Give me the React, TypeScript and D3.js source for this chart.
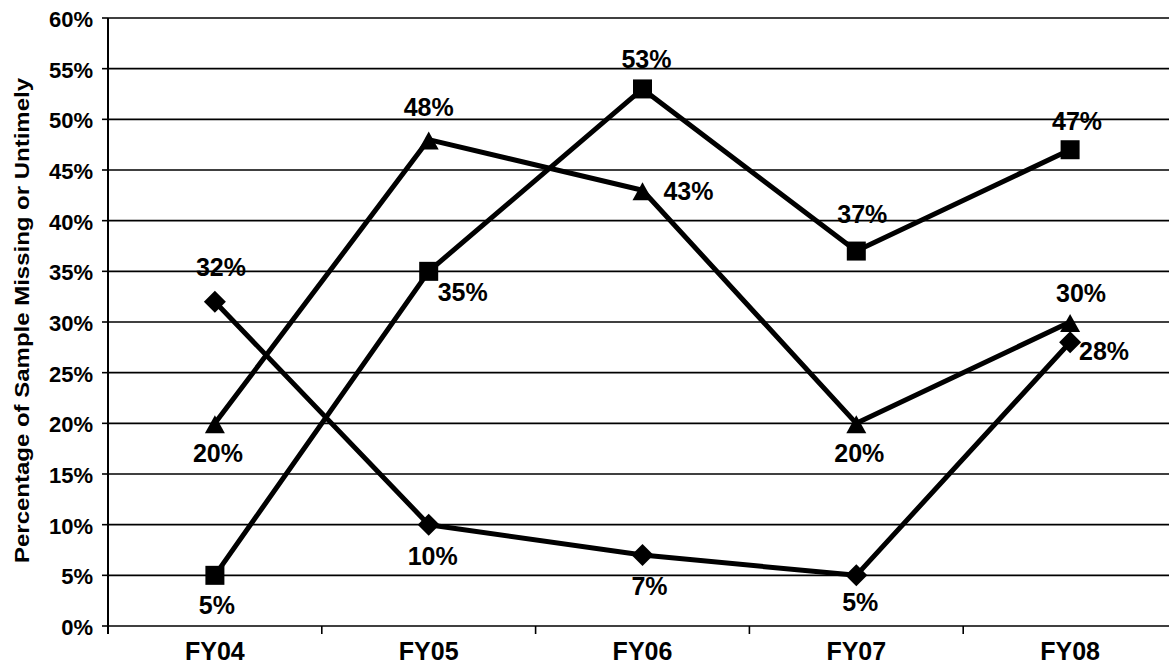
import React from "react";
import * as d3 from "d3";

const categories = ["FY04", "FY05", "FY06", "FY07", "FY08"];
const squareValues = [5, 35, 53, 37, 47];
const triangleValues = [20, 48, 43, 20, 30];
const diamondValues = [32, 10, 7, 5, 28];
const yTicks = [0, 5, 10, 15, 20, 25, 30, 35, 40, 45, 50, 55, 60];

// label offsets [dx, dy baseline] relative to marker
const squareLabelOffsets = [[2, 39], [34, 30], [4, -21], [6, -28], [7, -20]];
const triangleLabelOffsets = [[3, 39], [0, -24], [46, 10], [3, 39], [11, -20]];
const diamondLabelOffsets = [[6, -26], [4, 40], [7, 40], [4, 36], [34, 18]];

const W = 1169;
const H = 664;
const left = 108;
const right = 1177;
const top = 18;
const bottom = 626;
const FONT = "Arial, 'Liberation Sans', Helvetica, sans-serif";

export default function App() {
  const x = d3.scaleBand<string>().domain(categories).range([left, right]).padding(0);
  const cx = (c: string) => (x(c) as number) + x.bandwidth() / 2;
  const y = d3.scaleLinear().domain([0, 60]).range([bottom, top]);
  const line = d3
    .line<number>()
    .x((_, i) => cx(categories[i]))
    .y((d) => y(d));

  const series = [
    { name: "diamond", values: diamondValues, offsets: diamondLabelOffsets },
    { name: "square", values: squareValues, offsets: squareLabelOffsets },
    { name: "triangle", values: triangleValues, offsets: triangleLabelOffsets },
  ];

  const marker = (kind: string, px: number, py: number, key: string) => {
    if (kind === "square")
      return <rect key={key} x={px - 9.5} y={py - 9.5} width={19} height={19} fill="#000" />;
    if (kind === "triangle")
      return (
        <path key={key} d={`M${px},${py - 8}L${px + 10},${py + 10}L${px - 10},${py + 10}Z`} fill="#000" />
      );
    return (
      <path key={key} d={`M${px},${py - 11}L${px + 11},${py}L${px},${py + 11}L${px - 11},${py}Z`} fill="#000" />
    );
  };

  const boundaries = [...categories.map((c) => x(c) as number), right];

  return (
    <svg
      width={W}
      height={H}
      style={{ position: "absolute", left: 0, top: 0, background: "#fff" }}
      fontFamily={FONT}
    >
      <rect x={0} y={0} width={W} height={H} fill="#fff" />
      {/* gridlines */}
      {yTicks.map((t) => (
        <line key={"g" + t} x1={left} x2={right} y1={y(t)} y2={y(t)} stroke="#000" strokeWidth={1.6} />
      ))}
      {/* y axis */}
      <line x1={left} x2={left} y1={top} y2={bottom + 8} stroke="#000" strokeWidth={2} />
      {yTicks.map((t) => (
        <g key={"yt" + t}>
          <line x1={left - 6} x2={left} y1={y(t)} y2={y(t)} stroke="#000" strokeWidth={1.6} />
          <text
            x={93}
            y={y(t) + 9}
            textAnchor="end"
            fontSize={22}
            fontWeight="bold"
            fill="#000"
          >
            {t + "%"}
          </text>
        </g>
      ))}
      {/* x ticks */}
      {boundaries.map((b, i) => (
        <line key={"xt" + i} x1={b} x2={b} y1={bottom} y2={bottom + 8} stroke="#000" strokeWidth={1.6} />
      ))}
      {categories.map((c) => (
        <text key={"xl" + c} x={cx(c)} y={660} textAnchor="middle" fontSize={25} fontWeight="bold" fill="#000">
          {c}
        </text>
      ))}
      {/* y title */}
      <text
        transform={`translate(29, ${(78 + 563) / 2}) rotate(-90)`}
        textAnchor="middle"
        fontSize={20}
        fontWeight="bold"
        fill="#000"
        textLength={485}
        lengthAdjust="spacingAndGlyphs"
      >
        Percentage of Sample Missing or Untimely
      </text>
      {/* series */}
      {series.map((s) => (
        <g key={s.name}>
          <path d={line(s.values) || ""} fill="none" stroke="#000" strokeWidth={5} strokeLinejoin="round" />
          {s.values.map((v, i) => marker(s.name, cx(categories[i]), y(v), s.name + i))}
        </g>
      ))}
      {series.map((s) =>
        s.values.map((v, i) => (
          <text
            key={"lbl" + s.name + i}
            x={cx(categories[i]) + s.offsets[i][0]}
            y={y(v) + s.offsets[i][1]}
            textAnchor="middle"
            fontSize={25}
            fontWeight="bold"
            fill="#000"
          >
            {v + "%"}
          </text>
        ))
      )}
    </svg>
  );
}
